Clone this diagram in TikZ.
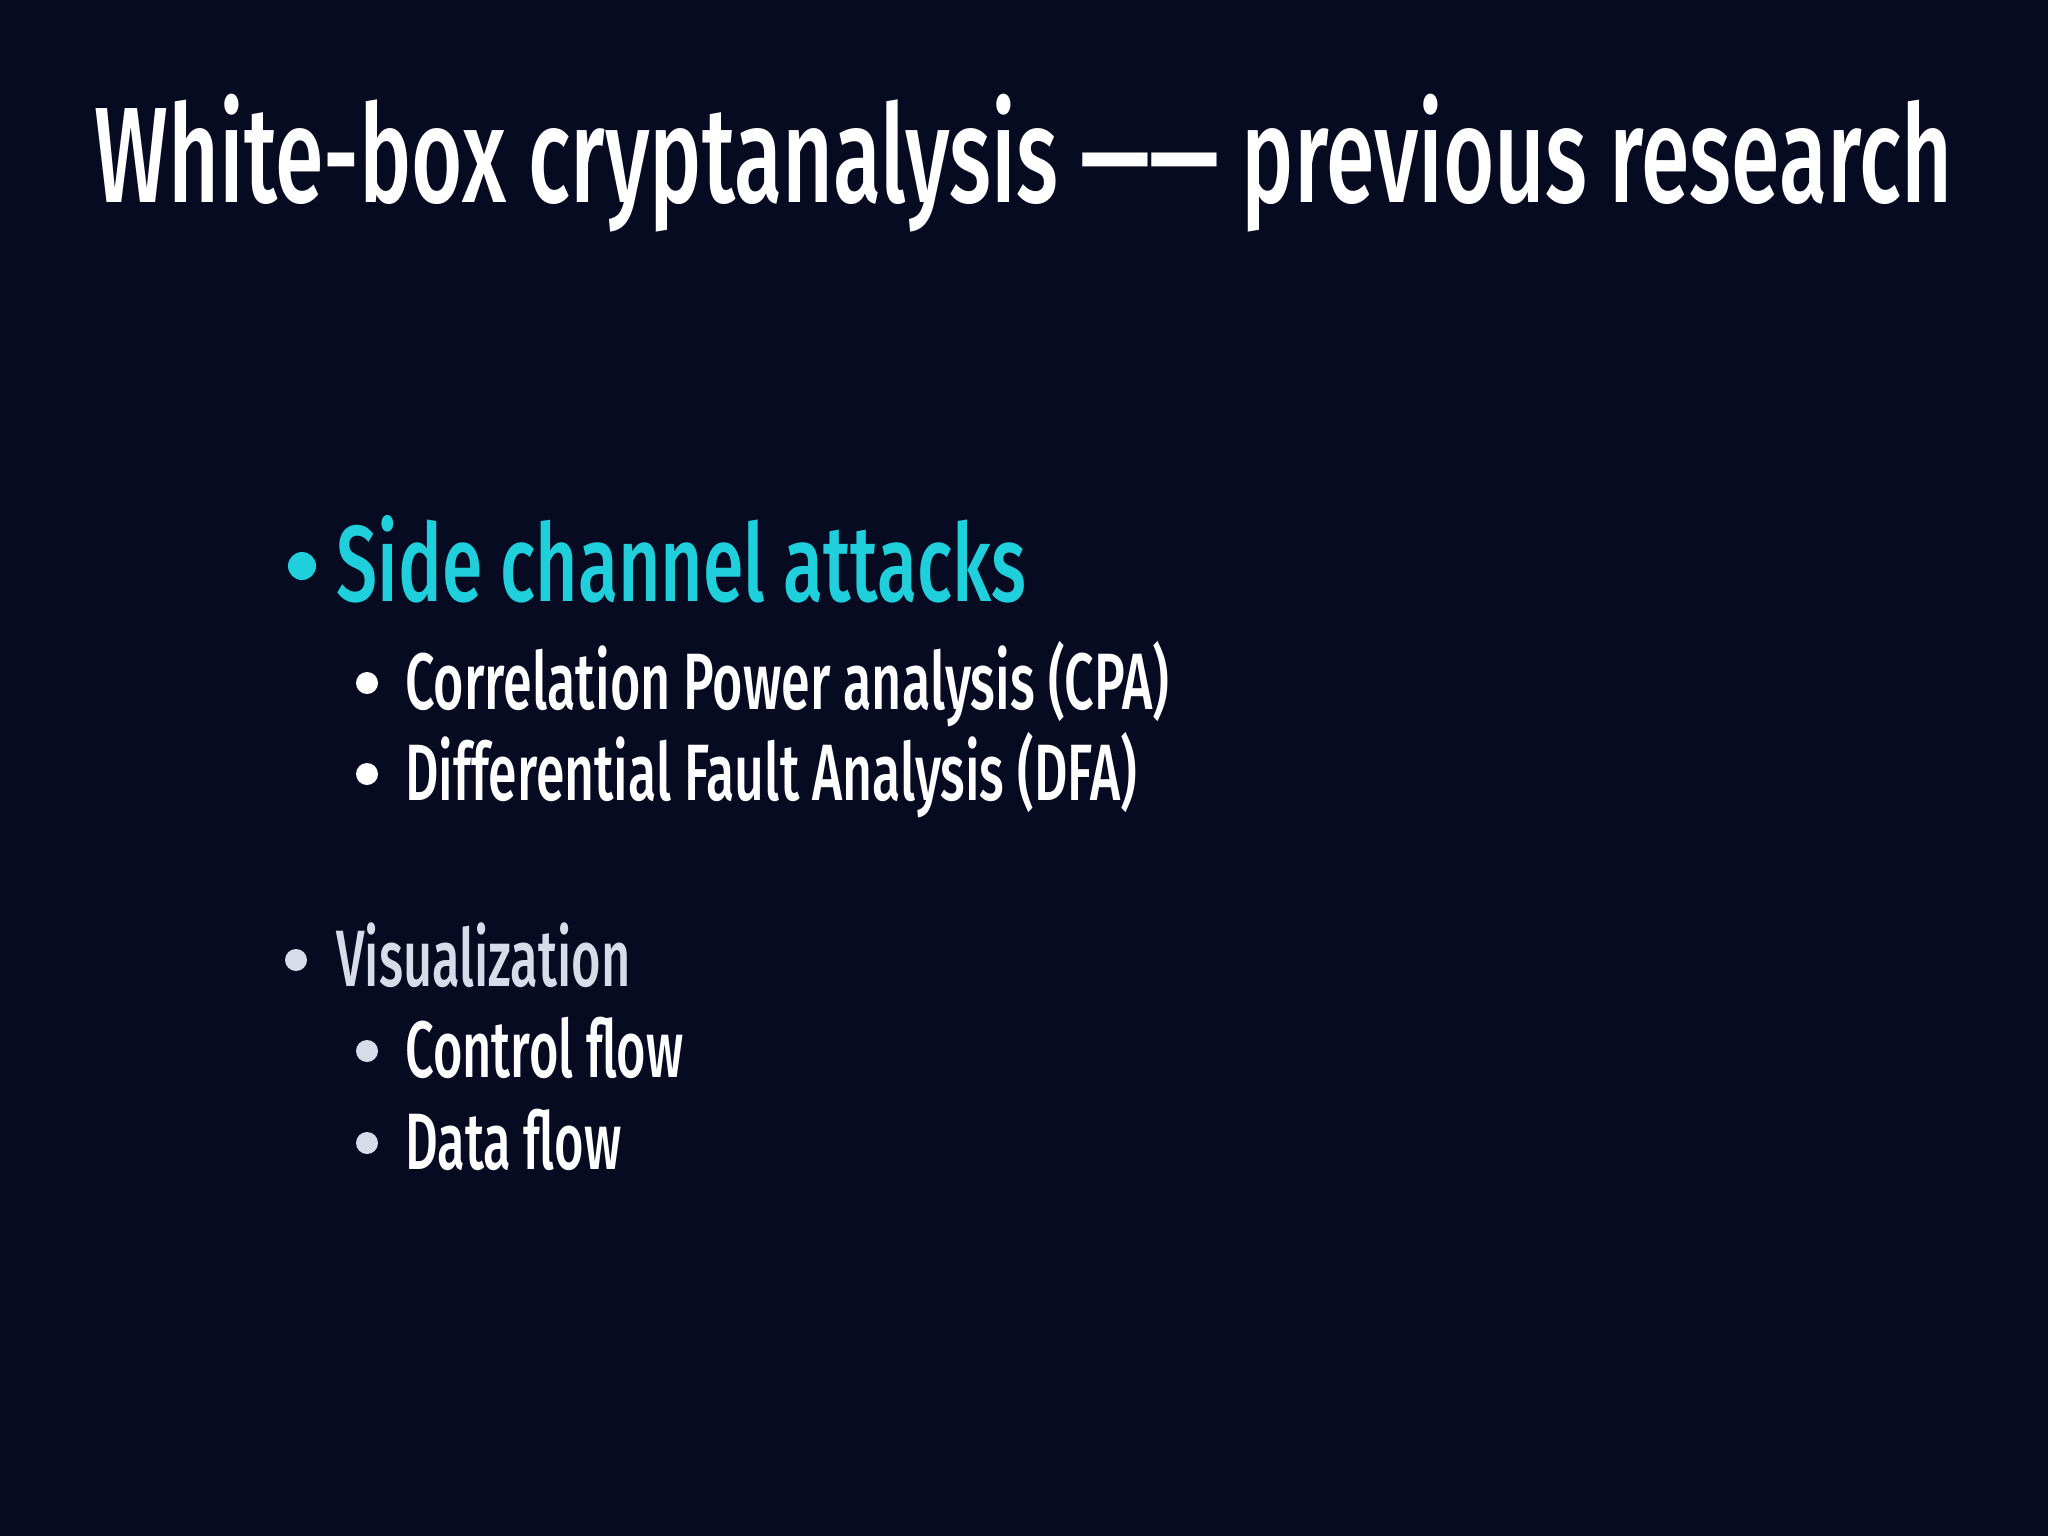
\documentclass[tikz,border=0pt]{standalone}
\usepackage{fontspec}
\usepackage{graphicx}
\setmainfont[FakeStretch=0.66]{Fira Sans Medium}
\definecolor{bg}{HTML}{070B22}
\definecolor{cy}{HTML}{1FD0DC}
\definecolor{vis}{HTML}{D8DCE8}
\newcommand{\fitw}[2]{\resizebox{#1}{\height}{#2}}
\begin{document}
\begin{tikzpicture}[x=0.5pt,y=-0.5pt,
  txt/.style={anchor=base west,inner sep=0pt,text=white},
  sub/.style={txt,font=\fontsize{40}{48}\selectfont},
  dot/.style={circle,fill=#1,inner sep=0pt,minimum size=14pt}]
\fill[bg] (0,0) rectangle (2048,1536);
\useasboundingbox (0,0) rectangle (2048,1536);
\node[txt,font=\fontsize{68}{80}\selectfont] (title) at (94,202) {\fitw{929pt}{White-box cryptanalysis ——\,previous research}};
\node[dot=cy,minimum size=14pt] (b1) at (302,566) {};
\node[txt,text=cy,font=\fontsize{54}{64}\selectfont] (side) at (336,601) {\fitw{345pt}{Side channel attacks}};
\node[dot=white,minimum size=11pt] (b2) at (367,683) {};
\node[sub] (cpa) at (405,709) {\fitw{382pt}{Correlation Power analysis (CPA)}};
\node[dot=white,minimum size=11pt] (b3) at (367,774) {};
\node[sub] (dfa) at (405,800) {\fitw{366pt}{Differential Fault Analysis (DFA)}};
\node[dot=vis,minimum size=11pt] (b4) at (296,960) {};
\node[sub,text=vis] (vis) at (336,986) {\fitw{147pt}{Visualization}};
\node[dot=vis,minimum size=11pt] (b5) at (367,1051) {};
\node[sub] (cf) at (405,1077) {\fitw{139pt}{Control flow}};
\node[dot=vis,minimum size=11pt] (b6) at (367,1143) {};
\node[sub] (df) at (405,1169) {\fitw{108pt}{Data flow}};
\end{tikzpicture}
\end{document}
